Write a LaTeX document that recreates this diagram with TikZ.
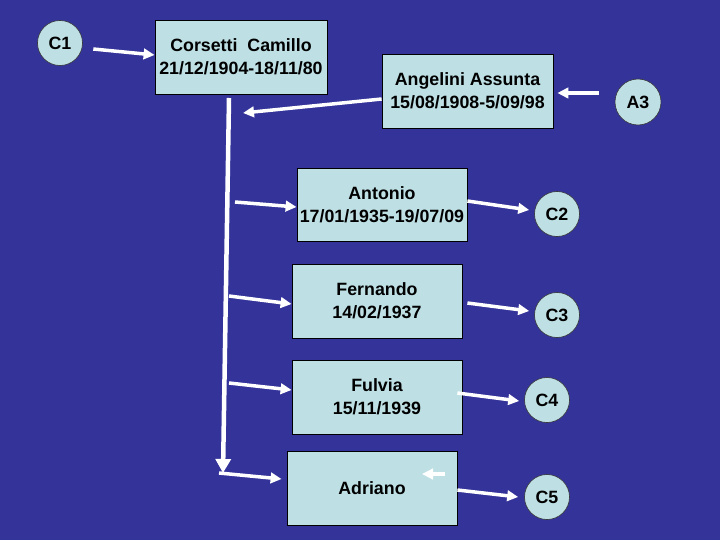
\documentclass[tikz,border=0pt]{standalone}
\usepackage{fontspec}
\setmainfont{Liberation Sans}
\usetikzlibrary{arrows.meta}
\definecolor{bg}{RGB}{51,51,153}
\definecolor{boxfill}{RGB}{190,224,229}
\begin{document}
\begin{tikzpicture}[x=1pt,y=-1pt,
  person/.style={draw=black,line width=0.8pt,fill=boxfill,rectangle,inner sep=0pt,
    minimum width=171pt,minimum height=74pt,align=center,
    font=\fontsize{17.8}{23}\selectfont\bfseries},
  tag/.style={draw=black!80,line width=0.6pt,fill=boxfill,circle,inner sep=0pt,
    minimum size=45pt,font=\fontsize{17.8}{21}\selectfont\bfseries},
  arr/.style={draw=white,line width=3.5pt,-{Triangle[length=11pt,width=10.5pt]}},
  trunk/.style={draw=white,line width=4.5pt,-{Triangle[length=14pt,width=15pt]}}]
\fill[bg] (0,0) rectangle (720,540);
\useasboundingbox (0,0) rectangle (720,540);

\node[tag] (c1) at (60,43) {C1};
\node[tag,minimum size=46pt] (a3) at (638,102) {A3};
\node[tag] (c2) at (557,214) {C2};
\node[tag] (c3) at (557,315) {C3};
\node[tag] (c4) at (547,400) {C4};
\node[tag] (c5) at (547,497) {C5};

\node[person,minimum width=172pt] (cors) at (241,57) {Corsetti\ \ Camillo\\21/12/1904-18/11/80};
\node[person] (ang) at (467.5,91) {Angelini Assunta\\15/08/1908-5/09/98};
\node[person,minimum width=170pt,minimum height=73pt] (ant) at (382,204.5) {Antonio\\17/01/1935-19/07/09};
\node[person,minimum width=170pt] (fer) at (377,301) {Fernando\\14/02/1937};
\node[person,minimum width=170pt] (ful) at (377,397) {Fulvia\\15/11/1939};
\node[person,minimum width=170pt] (adr) at (372,488) {Adriano};

\coordinate (ttop) at (229,98);
\coordinate (tbot) at (223,473);
\coordinate (tang) at (243,113);
\coordinate (tant) at (235,202);
\coordinate (tfer) at (229,296);
\coordinate (tful) at (229,383);
\coordinate (tadr) at (219,473);

\draw[trunk] (ttop) -- (tbot);
\draw[arr] ([xshift=10.5pt,yshift=-6pt]c1.east) -- ([yshift=2pt]cors.west);
\draw[arr] ([yshift=-8pt]ang.west) -- (tang);
\draw[arr] ([xshift=-16pt,yshift=9pt]a3.west) -- ([xshift=4pt,yshift=-2pt]ang.east);
\draw[arr] (tant) -- ([yshift=-2.5pt]ant.west);
\draw[arr] ([yshift=3.5pt]ant.east) -- ([xshift=-5pt,yshift=4pt]c2.west);
\draw[arr] (tfer) -- ([yshift=-3pt]fer.west);
\draw[arr] ([xshift=5pt,yshift=-2pt]fer.east) -- ([xshift=-5pt,yshift=4pt]c3.west);
\draw[arr] (tful) -- ([yshift=7pt]ful.west);
\draw[arr] ([xshift=-5pt,yshift=4pt]ful.east) -- ([xshift=-5pt,yshift=-1pt]c4.west);
\draw[arr] (tadr) -- ([xshift=-5pt,yshift=9pt]adr.west);
\draw[arr] ([xshift=73pt,yshift=14pt]adr.center) -- ([xshift=50pt,yshift=14pt]adr.center);
\draw[arr] ([yshift=-2pt]adr.east) -- ([xshift=-6pt]c5.west);
\end{tikzpicture}
\end{document}
